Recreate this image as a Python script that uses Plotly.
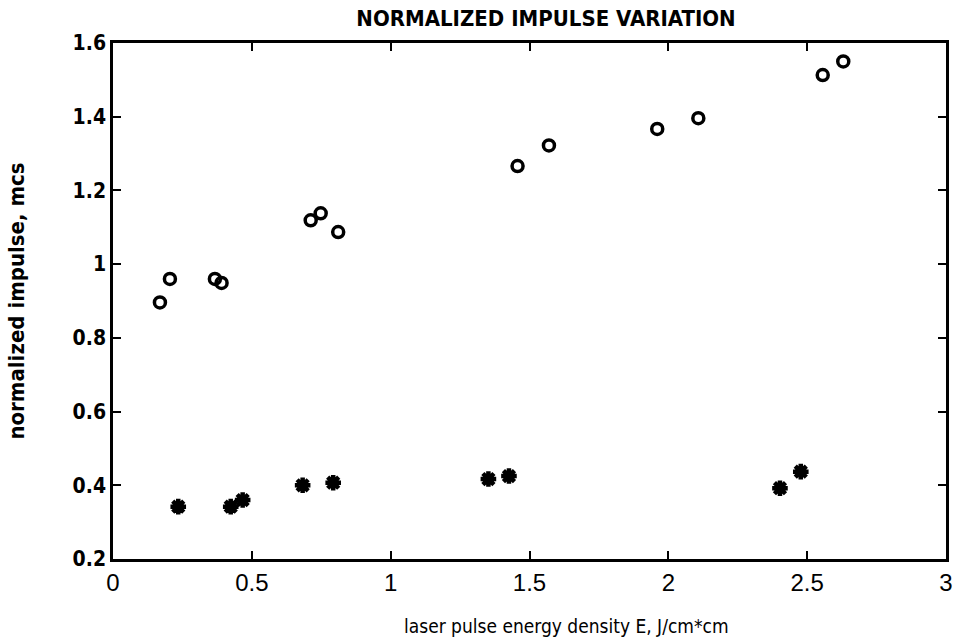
import plotly.graph_objects as go

# data
circle_x = [0.169, 0.205, 0.367, 0.391, 0.712, 0.748, 0.811, 1.457, 1.570, 1.960, 2.108, 2.556, 2.630]
circle_y = [0.896, 0.960, 0.960, 0.949, 1.119, 1.138, 1.087, 1.266, 1.322, 1.367, 1.396, 1.513, 1.550]
star_x = [0.235, 0.424, 0.467, 0.683, 0.793, 1.352, 1.426, 2.402, 2.477]
star_y = [0.342, 0.342, 0.360, 0.400, 0.407, 0.417, 0.425, 0.392, 0.437]

x_ticks = [0, 0.5, 1, 1.5, 2, 2.5, 3]
x_ticktext = ["0", "0.5", "1", "1.5", "2", "2.5", "3"]
y_ticks = [0.2, 0.4, 0.6, 0.8, 1.0, 1.2, 1.4, 1.6]
y_ticktext = ["0.2", "0.4", "0.6", "0.8", "1", "1.2", "1.4", "1.6"]

fig = go.Figure()
fig.add_trace(go.Scatter(
    x=circle_x, y=circle_y, mode="markers",
    marker=dict(symbol="circle-open", size=11, color="black", line=dict(width=3.5, color="black")),
    showlegend=False))
fig.add_trace(go.Scatter(
    x=star_x, y=star_y, mode="markers",
    marker=dict(symbol="asterisk-open", size=13, color="black", line=dict(width=4.5, color="black")),
    showlegend=False))

narrow = "Liberation Sans Narrow, Arial Narrow, sans-serif"
cond = "DejaVu Sans Condensed, DejaVu Sans, sans-serif"

fig.update_layout(
    width=963, height=643,
    margin=dict(l=113, r=17, t=43, b=84),
    paper_bgcolor="white", plot_bgcolor="white",
    font=dict(family=narrow, color="black"),
    title=dict(text="NORMALIZED IMPULSE VARIATION", x=0.567, xanchor="center",
               y=0.972, yanchor="middle",
               font=dict(family=cond, size=22, color="black", weight="bold")),
    annotations=[dict(text="laser pulse energy density E, J/cm*cm",
                      xref="paper", yref="paper", x=0.545, y=-0.13,
                      xanchor="center", yanchor="middle", showarrow=False,
                      font=dict(family=cond, size=19, color="black"))],
)
fig.update_xaxes(
    range=[0, 3], tickvals=x_ticks, ticktext=x_ticktext,
    showgrid=False, zeroline=False, automargin=False,
    showline=True, linecolor="black", linewidth=2.5, mirror="ticks",
    ticks="inside", ticklen=8, tickwidth=2, tickcolor="black",
    tickfont=dict(family=narrow, size=24, color="black"),
)
fig.update_yaxes(
    range=[0.2, 1.6], tickvals=y_ticks, ticktext=y_ticktext,
    showgrid=False, zeroline=False, automargin=False,
    showline=True, linecolor="black", linewidth=2.5, mirror="ticks",
    ticks="inside", ticklen=8, tickwidth=2, tickcolor="black",
    tickfont=dict(family=cond, size=21, color="black", weight="bold"),
    title=dict(text="normalized impulse, mcs",
               font=dict(family=cond, size=22, color="black", weight="bold"),
               standoff=42),
)

fig.write_html("out.html")
